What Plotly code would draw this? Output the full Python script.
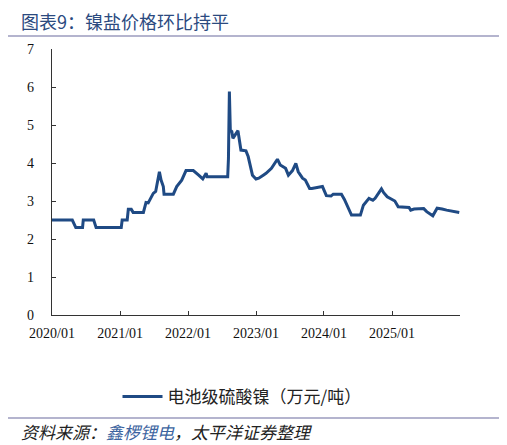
import plotly.graph_objects as go

dates = [
    "2020-01-01", "2020-04-19", "2020-05-08", "2020-06-13", "2020-06-17", "2020-08-12",
    "2020-08-25", "2021-01-07", "2021-01-12", "2021-02-08", "2021-02-14", "2021-03-02",
    "2021-03-12", "2021-05-06", "2021-05-20", "2021-06-01", "2021-06-28", "2021-07-11",
    "2021-07-31", "2021-08-09", "2021-08-21", "2021-08-25", "2021-10-14", "2021-11-01",
    "2021-11-28", "2021-12-21", "2022-01-29", "2022-02-16", "2022-02-27", "2022-03-21",
    "2022-04-08", "2022-04-13", "2022-08-02", "2022-08-06", "2022-08-11", "2022-08-16",
    "2022-08-24", "2022-08-30", "2022-09-18", "2022-09-26", "2022-10-12", "2022-11-08",
    "2022-11-20", "2022-12-13", "2023-01-01", "2023-01-16", "2023-02-09", "2023-02-24",
    "2023-03-25", "2023-04-07", "2023-04-26", "2023-05-11", "2023-06-09", "2023-06-24",
    "2023-07-16", "2023-08-03", "2023-08-16", "2023-09-08", "2023-09-23", "2023-10-16",
    "2023-10-28", "2023-12-24", "2024-01-14", "2024-02-08", "2024-02-20", "2024-04-04",
    "2024-04-20", "2024-05-28", "2024-07-15", "2024-07-31", "2024-08-30", "2024-09-20",
    "2024-10-02", "2024-11-05", "2024-11-17", "2024-12-06", "2025-01-16", "2025-02-03",
    "2025-04-02", "2025-04-11", "2025-04-29", "2025-06-20", "2025-07-06", "2025-08-08",
    "2025-08-31", "2025-09-27", "2025-10-21", "2025-12-28",
]
nickel_sulfate = [
    2.50, 2.50, 2.30, 2.30, 2.50, 2.50,
    2.30, 2.30, 2.50, 2.50, 2.78, 2.78,
    2.70, 2.70, 2.96, 2.95, 3.20, 3.25,
    3.77, 3.55, 3.38, 3.18, 3.18, 3.38,
    3.55, 3.80, 3.80, 3.71, 3.68, 3.58,
    3.73, 3.64, 3.64, 4.12, 5.88, 4.87,
    4.83, 4.65, 4.78, 4.85, 4.34, 4.32,
    4.17, 3.68, 3.58, 3.60, 3.68, 3.73,
    3.86, 3.95, 4.10, 3.95, 3.86, 3.68,
    3.80, 3.99, 3.77, 3.60, 3.55, 3.33,
    3.33, 3.38, 3.14, 3.13, 3.18, 3.18,
    3.04, 2.63, 2.63, 2.89, 3.07, 3.02,
    3.07, 3.32, 3.22, 3.11, 3.00, 2.85,
    2.83, 2.76, 2.79, 2.80, 2.72, 2.61,
    2.81, 2.79, 2.76, 2.70,
]
tick_dates = ["2020-01-01", "2021-01-01", "2022-01-01", "2023-01-01", "2024-01-01", "2025-01-01"]
tick_labels = ["2020/01", "2021/01", "2022/01", "2023/01", "2024/01", "2025/01"]
y_ticks = [0, 1, 2, 3, 4, 5, 6, 7]

title_text = "图表9：镍盐价格环比持平"
series_name = "电池级硫酸镍（万元/吨）"
source_text = '<i>资料来源：<span style="color:#3C64A0">鑫椤锂电</span>，太平洋证券整理</i>'

LINE_COLOR = "#1F4A84"
CJK = "Noto Sans CJK SC"
SERIF = "Liberation Serif"

# The page body has an 8px default margin; design in screen pixels and offset.
OFF = 8
SCREEN_W, SCREEN_H = 507, 445
W, H = SCREEN_W - OFF, SCREEN_H - OFF
# plot area in screen pixels
PL, PR, PT, PB = 52, 460, 49, 315
ML, MR, MT, MB = PL - OFF, W - (PR - OFF), PT - OFF, H - (PB - OFF)
pw = W - ML - MR
ph = H - MT - MB


def px_x(sx):
    return (sx - PL) / pw


def px_y(sy):
    return (PB - sy) / ph


fig = go.Figure()
fig.add_trace(go.Scatter(
    x=dates, y=nickel_sulfate, mode="lines", name=series_name,
    line=dict(color=LINE_COLOR, width=3),
))

fig.update_layout(
    width=W, height=H,
    margin=dict(l=ML, r=MR, t=MT, b=MB, autoexpand=False),
    paper_bgcolor="white", plot_bgcolor="white",
    showlegend=True,
    legend=dict(
        orientation="h", x=px_x(242), xanchor="center", y=px_y(397), yanchor="middle",
        font=dict(family=CJK, size=17, color="#222222"),
        itemwidth=40,
    ),
    xaxis=dict(
        type="date", range=["2020-01-01", "2026-01-01"],
        tickvals=tick_dates, ticktext=tick_labels,
        ticks="inside", ticklen=4, tickcolor="#333333",
        showline=True, linecolor="#333333", linewidth=1.3,
        showgrid=False, zeroline=False, automargin=False,
        tickfont=dict(family=SERIF, size=14, color="#111111"),
        ticklabelstandoff=5,
    ),
    yaxis=dict(
        range=[0, 7], tickvals=y_ticks,
        ticks="inside", ticklen=4, tickcolor="#333333",
        showline=True, linecolor="#333333", linewidth=1.3,
        showgrid=False, zeroline=False, automargin=False,
        tickfont=dict(family=SERIF, size=14, color="#111111"),
        ticklabelstandoff=14,
    ),
    annotations=[
        dict(text=title_text, x=px_x(19), y=px_y(21), xref="paper", yref="paper",
             showarrow=False, xanchor="left", yanchor="middle",
             font=dict(family=CJK, size=18, color="#2B4A7F")),
        dict(text=source_text, x=px_x(19), y=px_y(431), xref="paper", yref="paper",
             showarrow=False, xanchor="left", yanchor="middle",
             font=dict(family=CJK, size=17, color="#222222")),
    ],
    shapes=[
        dict(type="line", xref="paper", yref="paper",
             x0=px_x(8), x1=px_x(502), y0=px_y(36), y1=px_y(36),
             line=dict(color="#B4B4CE", width=2)),
        dict(type="line", xref="paper", yref="paper",
             x0=px_x(8), x1=px_x(502), y0=px_y(418), y1=px_y(418),
             line=dict(color="#B4B4CE", width=2)),
    ],
)

fig.write_html("out.html")
